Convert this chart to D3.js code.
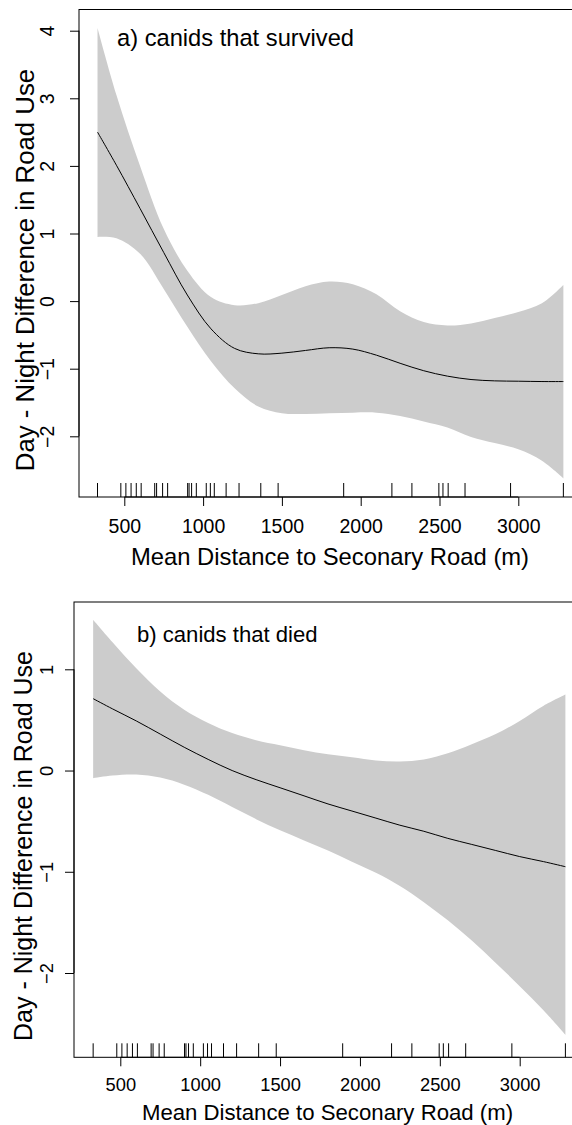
<!DOCTYPE html>
<html>
<head>
<meta charset="utf-8">
<script src="https://cdn.jsdelivr.net/npm/d3@7"></script>
<style>
  html, body { margin: 0; padding: 0; background: #fff; }
  svg { display: block; font-family: "Liberation Sans", Arial, Helvetica, sans-serif; }
</style>
</head>
<body>
<svg id="chart" width="572" height="1125"></svg>
<script>
// ---------- data ----------
const rugDistances = [330, 478, 510, 543, 576, 607, 693, 705, 743, 775, 902, 911, 927, 957, 1020, 1046, 1071, 1146, 1228, 1366, 1476, 1892, 2198, 2325, 2496, 2522, 2555, 2662, 2951, 3286];

const gridDistance = [330, 450, 600, 750, 900, 1050, 1200, 1350, 1500, 1650, 1800, 1950, 2100, 2250, 2400, 2550, 2700, 2850, 3000, 3150, 3286];

// a) canids that survived
const survivedFit   = [2.50, 2.01, 1.37, 0.72, 0.09, -0.41, -0.70, -0.78, -0.77, -0.73, -0.69, -0.71, -0.80, -0.92, -1.03, -1.11, -1.16, -1.18, -1.185, -1.19, -1.19];
const survivedUpper = [4.04, 3.05, 2.00, 1.07, 0.45, 0.06, -0.06, -0.03, 0.09, 0.22, 0.29, 0.25, 0.10, -0.15, -0.31, -0.36, -0.33, -0.25, -0.16, -0.03, 0.24];
const survivedLower = [0.95, 0.93, 0.70, 0.18, -0.38, -0.89, -1.29, -1.56, -1.66, -1.67, -1.66, -1.65, -1.65, -1.70, -1.78, -1.87, -2.01, -2.10, -2.19, -2.36, -2.62];

// b) canids that died
const diedFit   = [0.71, 0.61, 0.49, 0.36, 0.23, 0.11, 0.00, -0.09, -0.17, -0.25, -0.33, -0.40, -0.47, -0.54, -0.60, -0.67, -0.73, -0.79, -0.85, -0.90, -0.95];
const diedUpper = [1.49, 1.27, 1.01, 0.78, 0.60, 0.47, 0.37, 0.30, 0.25, 0.20, 0.16, 0.13, 0.10, 0.09, 0.11, 0.17, 0.26, 0.36, 0.49, 0.64, 0.75];
const diedLower = [-0.075, -0.05, -0.04, -0.07, -0.14, -0.24, -0.36, -0.48, -0.59, -0.69, -0.79, -0.90, -1.01, -1.14, -1.30, -1.48, -1.68, -1.90, -2.13, -2.37, -2.61];

const xTicks = [500, 1000, 1500, 2000, 2500, 3000];
const yTicksA = [-2, -1, 0, 1, 2, 3, 4];
const yTicksB = [-2, -1, 0, 1];

const xTitle = "Mean Distance to Seconary Road (m)";
const yTitle = "Day - Night Difference in Road Use";
const labelA = "a) canids that survived";
const labelB = "b) canids that died";

// ---------- drawing ----------
const svg = d3.select("#chart");
const fmt = d => (d < 0 ? "\u2212" + Math.abs(d) : String(d));
const curve = d3.curveCatmullRom.alpha(0.5);

function panel(cfg) {
  const g = svg.append("g");
  const x = d3.scaleLinear().domain([500, 3000]).range(cfg.xRange);
  const y = d3.scaleLinear().domain(cfg.yDomain).range(cfg.yRange);

  const rows = gridDistance.map((d, i) => ({ d, fit: cfg.fit[i], lo: cfg.lower[i], hi: cfg.upper[i] }));

  // confidence band
  g.append("path")
    .datum(rows)
    .attr("fill", "#cccccc")
    .attr("stroke", "none")
    .attr("d", d3.area().curve(curve)
      .x(r => x(r.d)).y0(r => y(r.lo)).y1(r => y(r.hi)));

  // fitted line
  g.append("path")
    .datum(rows)
    .attr("fill", "none")
    .attr("stroke", "#000")
    .attr("stroke-width", 1)
    .attr("d", d3.line().curve(curve).x(r => x(r.d)).y(r => y(r.fit)));

  // rug
  g.append("g").selectAll("line").data(rugDistances).join("line")
    .attr("x1", d => x(d)).attr("x2", d => x(d))
    .attr("y1", cfg.bottom).attr("y2", cfg.bottom - 14)
    .attr("stroke", "#000").attr("stroke-width", 1);

  // box
  g.append("rect")
    .attr("x", cfg.left).attr("y", cfg.top)
    .attr("width", 620 - cfg.left).attr("height", cfg.bottom - cfg.top)
    .attr("fill", "none").attr("stroke", "#000").attr("stroke-width", 1);

  // x axis
  const xa = g.append("g").attr("transform", `translate(0,${cfg.bottom})`)
    .call(d3.axisBottom(x).tickValues(xTicks).tickSize(9).tickSizeOuter(0).tickFormat(d => String(d)));
  xa.select(".domain").remove();
  xa.selectAll("line").attr("stroke", "#000");
  xa.selectAll("text")
    .attr("y", cfg.xLabelBaseline - cfg.bottom).attr("dy", null)
    .attr("font-size", cfg.tickFont).attr("fill", "#000")
    .attr("font-family", "Liberation Sans, Arial, sans-serif");
  g.append("line")
    .attr("x1", x(xTicks[0])).attr("x2", x(xTicks[xTicks.length - 1]))
    .attr("y1", cfg.bottom).attr("y2", cfg.bottom).attr("stroke", "#000");

  // y axis
  const ya = g.append("g").attr("transform", `translate(${cfg.left},0)`)
    .call(d3.axisLeft(y).tickValues(cfg.yTicks).tickSize(9).tickSizeOuter(0).tickFormat(fmt));
  ya.select(".domain").remove();
  ya.selectAll("line").attr("stroke", "#000");
  ya.selectAll("text")
    .attr("x", null).attr("dy", null)
    .attr("text-anchor", "middle")
    .attr("transform", `translate(${cfg.yLabelBaseline - cfg.left},0) rotate(-90)`)
    .attr("font-size", cfg.tickFont).attr("fill", "#000")
    .attr("font-family", "Liberation Sans, Arial, sans-serif");
  g.append("line")
    .attr("x1", cfg.left).attr("x2", cfg.left)
    .attr("y1", y(cfg.yTicks[0])).attr("y2", y(cfg.yTicks[cfg.yTicks.length - 1]))
    .attr("stroke", "#000");

  // titles
  g.append("text")
    .attr("x", cfg.xTitleX).attr("y", cfg.xTitleBaseline)
    .attr("text-anchor", "middle").attr("font-size", cfg.titleFont)
    .text(xTitle);
  g.append("text")
    .attr("transform", `translate(${cfg.yTitleBaseline},${cfg.yTitleY}) rotate(-90)`)
    .attr("text-anchor", "middle").attr("font-size", cfg.yTitleFont)
    .text(yTitle);
  g.append("text")
    .attr("x", cfg.labelX).attr("y", cfg.labelBaseline)
    .attr("font-size", cfg.labelFont)
    .text(cfg.label);
}

panel({
  left: 79, top: 9.5, bottom: 497,
  xRange: [124.3, 518.3], yDomain: [-2, 4], yRange: [436.3, 30.7],
  yTicks: yTicksA, fit: survivedFit, upper: survivedUpper, lower: survivedLower,
  tickFont: 19.5, titleFont: 23.8, yTitleFont: 25.8, labelFont: 23.7,
  xLabelBaseline: 532.5, yLabelBaseline: 53.5,
  xTitleX: 330, xTitleBaseline: 564.5,
  yTitleBaseline: 33.5, yTitleY: 270,
  label: labelA, labelX: 117, labelBaseline: 45.5
});

panel({
  left: 74, top: 602, bottom: 1057.3,
  xRange: [120.3, 519.7], yDomain: [-2, 1], yRange: [973, 669.3],
  yTicks: yTicksB, fit: diedFit, upper: diedUpper, lower: diedLower,
  tickFont: 18.3, titleFont: 22.2, yTitleFont: 25, labelFont: 22.1,
  xLabelBaseline: 1091, yLabelBaseline: 53.3,
  xTitleX: 327.5, xTitleBaseline: 1120,
  yTitleBaseline: 32, yTitleY: 846,
  label: labelB, labelX: 137, labelBaseline: 641.5
});
</script>
</body>
</html>
